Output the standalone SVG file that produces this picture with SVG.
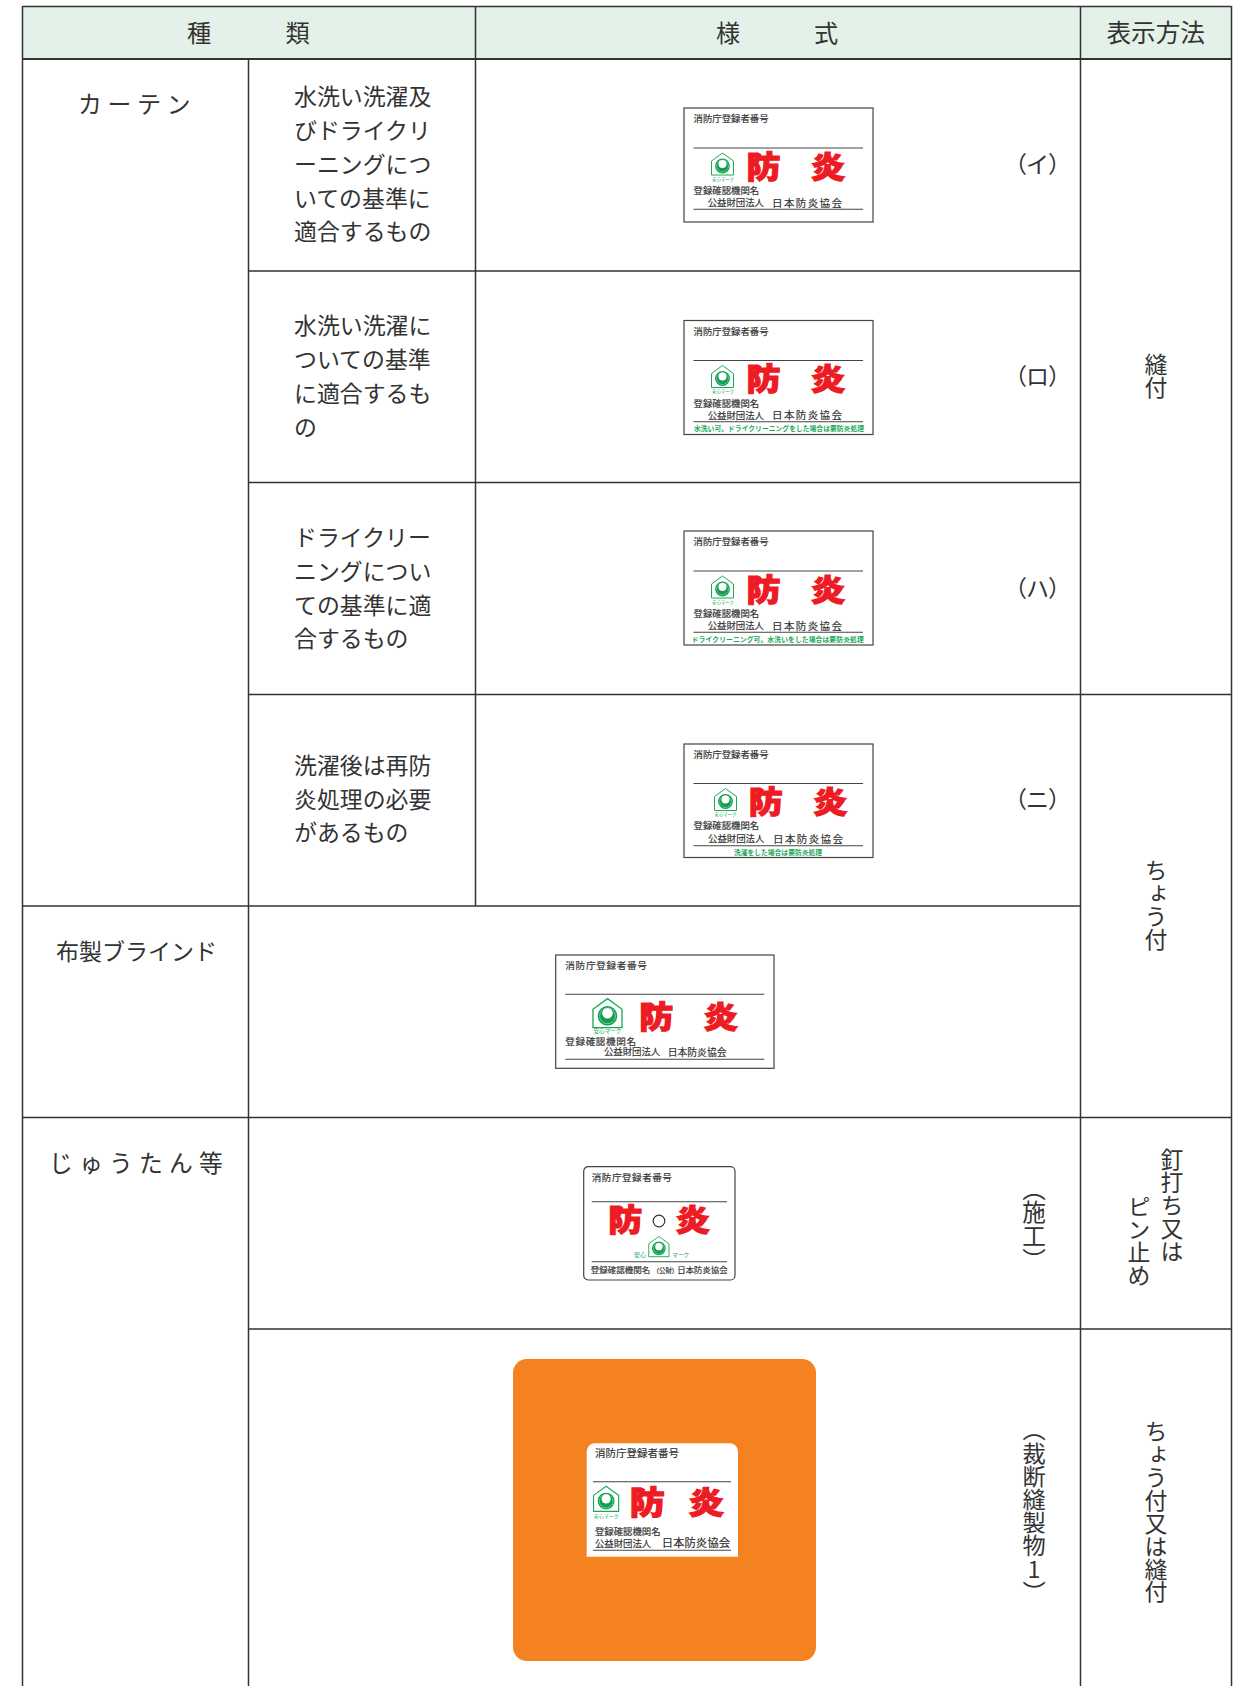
<svg xmlns="http://www.w3.org/2000/svg" xmlns:xlink="http://www.w3.org/1999/xlink" width="1243" height="1686" viewBox="0 0 1243 1686">
<style>
text{font-family:"Noto Sans CJK JP","Noto Sans",sans-serif;fill:#333}
.grid line{stroke:#333;stroke-width:1.5}
.t{font-size:22.9px}
.v{font-size:22.9px;writing-mode:vertical-rl;text-orientation:upright}
.p{font-size:23px;letter-spacing:-1px}
.box{fill:#fff;stroke:#444;stroke-width:1.2}
.rule{stroke:#444;stroke-width:1.1}
.s{font-size:9.4px;stroke:#333;stroke-width:.18}
.big{font-size:34px;font-weight:900;fill:#ED1C24;stroke:#ED1C24;stroke-width:1.3;stroke-linejoin:miter}
.gr{font-size:6.8px;fill:#1AA85A;font-weight:700}
.mk{font-size:4.4px;fill:#1AA85A;text-anchor:middle}
</style>
<defs>
<g id="mark">
<polygon points="0.5,8.5 11.5,0.5 22.5,8.5 22.5,22.5 0.5,22.5" fill="#fff" stroke="#1AA85A" stroke-width="1"/>
<circle cx="11.5" cy="13.5" r="7.4" fill="#0E9F4F"/>
<circle cx="11.5" cy="13.5" r="5.9" fill="none" stroke="#fff" stroke-width="0.7" stroke-dasharray="0.7 0.7"/>
<circle cx="11.5" cy="11.6" r="4" fill="#fff"/>
</g>
</defs>
<rect x="22.5" y="6.5" width="1209" height="52.5" fill="#E3F1E8"/>
<g id="grid" class="grid">
<line x1="22.5" y1="6.5" x2="1231.5" y2="6.5"/>
<line x1="22.5" y1="59" x2="1231.5" y2="59" style="stroke-width:1.8"/>
<line x1="22.5" y1="6" x2="22.5" y2="1686"/>
<line x1="248.5" y1="59" x2="248.5" y2="1686"/>
<line x1="475.5" y1="6" x2="475.5" y2="906"/>
<line x1="1080.5" y1="6" x2="1080.5" y2="1686"/>
<line x1="1231.5" y1="6" x2="1231.5" y2="1686"/>
<line x1="248.5" y1="271" x2="1080.5" y2="271"/>
<line x1="248.5" y1="482.5" x2="1080.5" y2="482.5"/>
<line x1="248.5" y1="694.5" x2="1231.5" y2="694.5"/>
<line x1="22.5" y1="906" x2="1080.5" y2="906"/>
<line x1="22.5" y1="1117.5" x2="1231.5" y2="1117.5"/>
<line x1="248.5" y1="1329" x2="1231.5" y2="1329"/>
</g>
<g id="header">
<text x="187" y="41.5" style="font-size:24.2px">種</text>
<text x="285.5" y="41.5" style="font-size:24.2px">類</text>
<text x="716" y="41.5" style="font-size:24.2px">様</text>
<text x="814" y="41.5" style="font-size:24.2px">式</text>
<text x="1106.5" y="41.5" style="font-size:24.6px">表示方法</text>
</g>
<g id="kinds">
<text x="78" y="113" class="t" style="font-size:23.8px;letter-spacing:5.8px">カーテン</text>
<text x="56" y="959.5" class="t" style="font-size:23px">布製ブラインド</text>
<text x="49" y="1172" class="t" style="font-size:23.8px;letter-spacing:6.2px">じゅうたん等</text>
</g>
<g id="cell-1">
<text x="294" y="105" class="t">水洗い洗濯及</text>
<text x="294" y="139" class="t">びドライクリ</text>
<text x="294" y="172.5" class="t">ーニングにつ</text>
<text x="294" y="206.5" class="t">いての基準に</text>
<text x="294" y="240" class="t">適合するもの</text>
</g>
<g id="cell-2">
<text x="294" y="334" class="t">水洗い洗濯に</text>
<text x="294" y="367.5" class="t">ついての基準</text>
<text x="294" y="401.5" class="t">に適合するも</text>
<text x="294" y="435.5" class="t">の</text>
</g>
<g id="cell-3">
<text x="294" y="545.5" class="t">ドライクリー</text>
<text x="294" y="579.5" class="t">ニングについ</text>
<text x="294" y="613.5" class="t">ての基準に適</text>
<text x="294" y="647" class="t">合するもの</text>
</g>
<g id="cell-4">
<text x="294" y="774" class="t">洗濯後は再防</text>
<text x="294" y="808" class="t">炎処理の必要</text>
<text x="294" y="841" class="t">があるもの</text>
</g>
<g id="methods">
<text x="1156" y="353" class="v">縫付</text>
<text x="1156" y="859" class="v">ちょう付</text>
<text x="1172" y="1148" class="v">釘打ち又は</text>
<text x="1139" y="1195" class="v">ピン止め</text>
<text x="1156" y="1420" class="v">ちょう付又は縫付</text>
</g>
<g id="marks">
<text x="1004" y="173" class="p">（イ）</text>
<text x="1004" y="385" class="p">（ロ）</text>
<text x="1004" y="597" class="p">（ハ）</text>
<text x="1004" y="808" class="p">（ニ）</text>
<text x="1034" y="1177" class="v" style="font-size:23.6px">（施工）</text>
<text x="1034" y="1418" class="v" style="font-size:23.2px">（裁断縫製物1）</text>
</g>
<g id="label-i" transform="translate(684,108)">
<rect class="box" width="189" height="114"/>
<text class="s" x="9.5" y="14">消防庁登録者番号</text>
<line class="rule" x1="9.5" y1="40" x2="179" y2="40"/>
<use xlink:href="#mark" href="#mark" x="27" y="44.5"/>
<text class="mk" x="39" y="72.6">安心マーク</text>
<text class="big" transform="translate(62.5,69.5) scale(1,.9)">防</text>
<text class="big" transform="translate(127,69.5) scale(1,.9)">炎</text>
<text class="s" x="9.5" y="86">登録確認機関名</text>
<text class="s" x="23.7" y="98.2">公益財団法人</text>
<text class="s" x="88" y="98.6" style="font-size:10.5px;letter-spacing:1.4px">日本防炎協会</text>
<line class="rule" x1="9.5" y1="101.3" x2="179" y2="101.3"/>
</g>
<g id="label-ro" transform="translate(684,320.5)">
<rect class="box" width="189" height="114"/>
<text class="s" x="9.5" y="14">消防庁登録者番号</text>
<line class="rule" x1="9.5" y1="40" x2="179" y2="40"/>
<use xlink:href="#mark" href="#mark" x="27" y="44.5"/>
<text class="mk" x="39" y="72.6">安心マーク</text>
<text class="big" transform="translate(62.5,69.5) scale(1,.9)">防</text>
<text class="big" transform="translate(127,69.5) scale(1,.9)">炎</text>
<text class="s" x="9.5" y="86">登録確認機関名</text>
<text class="s" x="23.7" y="98.2">公益財団法人</text>
<text class="s" x="88" y="98.6" style="font-size:10.5px;letter-spacing:1.4px">日本防炎協会</text>
<line class="rule" x1="9.5" y1="101.3" x2="179" y2="101.3"/>
<text class="gr" x="10" y="110.5" textLength="170">水洗い可。ドライクリーニングをした場合は要防炎処理</text>
</g>
<g id="label-ha" transform="translate(684,531)">
<rect class="box" width="189" height="114"/>
<text class="s" x="9.5" y="14">消防庁登録者番号</text>
<line class="rule" x1="9.5" y1="40" x2="179" y2="40"/>
<use xlink:href="#mark" href="#mark" x="27" y="44.5"/>
<text class="mk" x="39" y="72.6">安心マーク</text>
<text class="big" transform="translate(62.5,69.5) scale(1,.9)">防</text>
<text class="big" transform="translate(127,69.5) scale(1,.9)">炎</text>
<text class="s" x="9.5" y="86">登録確認機関名</text>
<text class="s" x="23.7" y="98.2">公益財団法人</text>
<text class="s" x="88" y="98.6" style="font-size:10.5px;letter-spacing:1.4px">日本防炎協会</text>
<line class="rule" x1="9.5" y1="101.3" x2="179" y2="101.3"/>
<text class="gr" x="7.7" y="110.5" textLength="172">ドライクリーニング可。水洗いをした場合は要防炎処理</text>
</g>
<g id="label-ni" transform="translate(684,744)">
<rect class="box" width="189" height="113.5"/>
<text class="s" x="9.5" y="14">消防庁登録者番号</text>
<line class="rule" x1="9.5" y1="39.5" x2="179" y2="39.5"/>
<use xlink:href="#mark" href="#mark" x="30" y="44"/>
<text class="mk" x="41.5" y="71.5">安心マーク</text>
<text class="big" transform="translate(64.8,68.5) scale(1,.9)">防</text>
<text class="big" transform="translate(129.3,68.5) scale(1,.9)">炎</text>
<text class="s" x="9.5" y="85">登録確認機関名</text>
<text class="s" x="24" y="98">公益財団法人</text>
<text class="s" x="89" y="98.5" style="font-size:10.5px;letter-spacing:1.4px">日本防炎協会</text>
<line class="rule" x1="9.5" y1="101.7" x2="179" y2="101.7"/>
<text class="gr" x="50" y="111" textLength="88">洗濯をした場合は要防炎処理</text>
</g>
<g id="label-blind" transform="translate(555.7,955)">
<rect class="box" width="218.3" height="113.3"/>
<text class="s" x="9.6" y="14" style="font-size:9.6px;letter-spacing:.7px">消防庁登録者番号</text>
<line class="rule" x1="9.6" y1="39.3" x2="208.6" y2="39.3"/>
<use xlink:href="#mark" href="#mark" transform="translate(36.6,43) scale(1.32)"/>
<text class="mk" x="51.8" y="78" style="font-size:5.6px">安心マーク</text>
<text class="big" transform="translate(83.5,73) scale(1,.9)">防</text>
<text class="big" transform="translate(148,73) scale(1,.9)">炎</text>
<text class="s" x="9.6" y="90.3" style="font-size:9.6px;letter-spacing:.6px">登録確認機関名</text>
<text class="s" x="48.3" y="100">公益財団法人</text>
<text class="s" x="112" y="100.5" style="font-size:9.8px">日本防炎協会</text>
<line class="rule" x1="9.6" y1="104.3" x2="208.6" y2="104.3"/>
</g>
<g id="label-work" transform="translate(583.7,1166.7)">
<rect class="box" width="151.3" height="113.3" rx="4.5"/>
<text class="s" x="8" y="14" style="font-size:9.6px;letter-spacing:.5px">消防庁登録者番号</text>
<line class="rule" x1="8" y1="35" x2="143.3" y2="35"/>
<text class="big" transform="translate(24.5,64) scale(1,.9)">防</text>
<circle cx="75.3" cy="54.3" r="5.8" fill="none" stroke="#333" stroke-width="1.2"/>
<text class="big" transform="translate(92,64) scale(1,.9)">炎</text>
<use xlink:href="#mark" href="#mark" transform="translate(64.6,69.3) scale(.92)"/>
<text class="mk" x="56.3" y="90" style="font-size:6px">安心</text>
<text class="mk" x="97" y="90" style="font-size:5.6px">マーク</text>
<line class="rule" x1="8" y1="95" x2="143.3" y2="95"/>
<text class="s" x="7" y="106" style="font-size:8.5px">登録確認機関名</text>
<text class="s" x="69" y="106" style="font-size:6.4px">（公財）</text>
<text class="s" x="93.6" y="106" style="font-size:8.4px">日本防炎協会</text>
</g>
<g id="orange-square">
<rect x="513" y="1359" width="303" height="302" rx="14" fill="#F58220"/>
</g>
<g id="label-cut" transform="translate(586.7,1443.3)">
<path d="M0 113.4V8a8 8 0 0 1 8-8H143.3a8 8 0 0 1 8 8V113.4Z" fill="#fff"/>
<text class="s" x="8.3" y="14" style="font-size:10.5px">消防庁登録者番号</text>
<line class="rule" x1="6.3" y1="38.4" x2="144.3" y2="38.4"/>
<use xlink:href="#mark" href="#mark" transform="translate(6.3,42.4) scale(1.14)"/>
<text class="mk" x="19.5" y="74.4" style="font-size:5px">安心マーク</text>
<text class="big" transform="translate(43,71) scale(1.03,.92)">防</text>
<text class="big" transform="translate(102,71) scale(1.03,.92)">炎</text>
<text class="s" x="8.3" y="91.5">登録確認機関名</text>
<text class="s" x="8.3" y="103.4">公益財団法人</text>
<text class="s" x="75" y="103.7" style="font-size:11.4px">日本防炎協会</text>
<line class="rule" x1="6.3" y1="107" x2="144.3" y2="107"/>
</g>
</svg>
